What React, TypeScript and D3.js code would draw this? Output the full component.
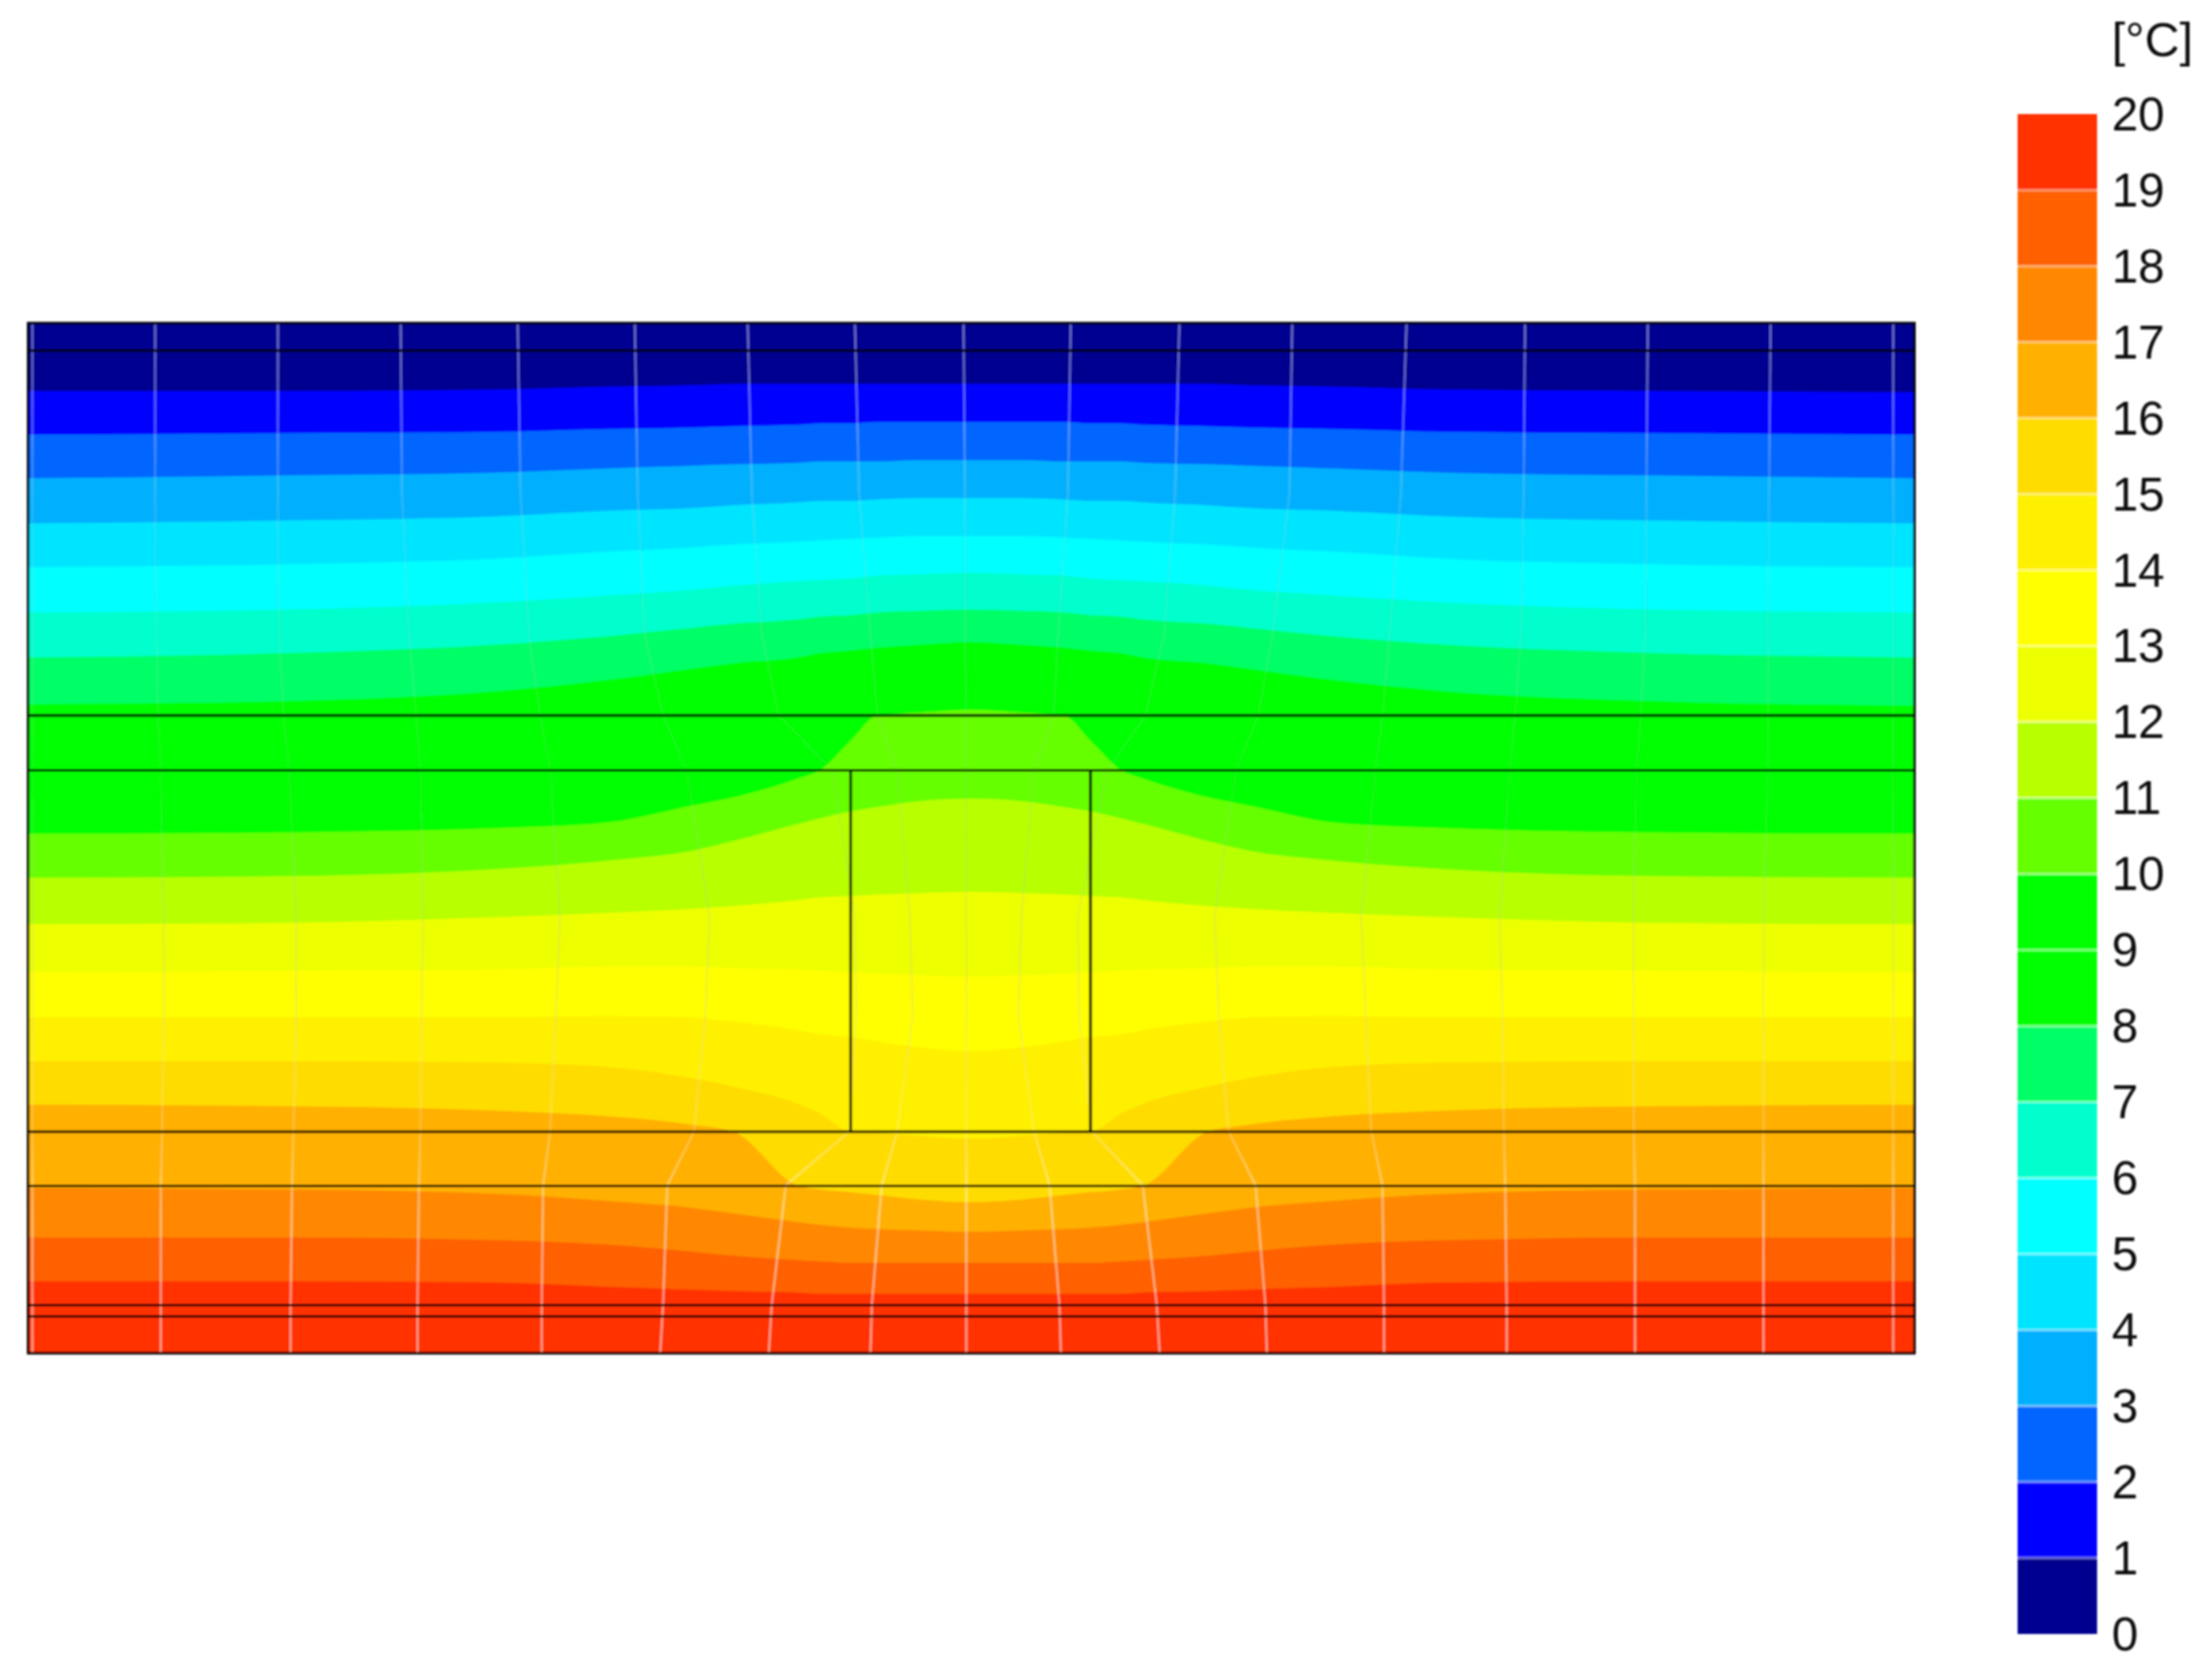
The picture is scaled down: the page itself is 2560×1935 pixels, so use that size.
import React from "react";
import * as d3 from "d3";

// Temperature legend
const legendLevels = d3.range(0, 21);
const bandColors = [
  "#000090", "#0000ff", "#0066ff", "#00b0ff", "#00e5ff",
  "#00ffff", "#00ffcc", "#00ff66", "#00ff00", "#00ff00",
  "#66ff00", "#b8ff00", "#eeff00", "#ffff00", "#fff000",
  "#ffdc00", "#ffb000", "#ff8800", "#ff6000", "#ff3000",
];
const unitLabel = "[°C]";

// Along-wall stations for the isotherms (model units)
const stations = [20, 200, 350, 430, 490, 520, 565, 581, 603, 622, 650, 688, 726, 754, 773, 795, 811, 856, 886, 946, 1026, 1176, 1357];

// Isotherm depth at each station, one list per temperature
const iso1 = [277, 277, 276, 274, 273, 272, 272, 272, 272, 272, 272, 272, 272, 272, 272, 272, 272, 272, 273, 274, 276, 277, 278];
const iso2 = [308, 307, 306, 304, 303, 302, 301, 300, 300, 299, 299, 299, 299, 299, 300, 300, 301, 302, 303, 304, 306, 307, 308];
const iso3 = [339, 337, 335, 332, 330, 329, 328, 327, 327, 327, 326, 326, 326, 327, 327, 327, 328, 329, 330, 332, 335, 337, 339];
const iso4 = [371, 369, 366, 362, 360, 358, 356, 355, 355, 354, 353, 353, 353, 354, 355, 355, 356, 358, 360, 362, 366, 369, 371];
const iso5 = [402, 400, 396, 391, 388, 386, 384, 383, 382, 381, 380, 380, 380, 381, 382, 383, 384, 386, 388, 391, 396, 400, 402];
const iso6 = [434, 432, 427, 422, 418, 415, 412, 411, 410, 408, 407, 406, 407, 408, 410, 411, 412, 415, 418, 422, 427, 432, 434];
const iso7 = [466, 463, 457, 451, 445, 442, 439, 437, 436, 434, 433, 432, 433, 434, 436, 437, 439, 442, 445, 451, 457, 463, 466];
const iso8 = [499, 497, 490, 482, 474, 470, 466, 463, 461, 459, 457, 455, 457, 459, 461, 463, 466, 470, 474, 482, 490, 497, 500];
const iso9 = [545, 543, 540, 533, 525, 518, 505, 500, 495, 492, 490, 488, 490, 492, 495, 500, 505, 518, 525, 533, 540, 543, 545];
const iso10 = [591, 590, 587, 583, 571, 565, 552, 546, 525, 507, 505, 503, 505, 507, 525, 546, 552, 565, 571, 583, 587, 590, 591];
const iso11 = [622, 621, 616, 610, 603, 596, 584, 580, 575, 572, 568, 566, 568, 572, 575, 580, 584, 596, 603, 610, 616, 621, 622];
const iso12 = [655, 654, 650, 647, 644, 642, 638, 636, 635, 634, 633, 632, 633, 634, 635, 636, 638, 642, 644, 647, 650, 654, 655];
const iso13 = [689, 688, 687, 685, 685, 686, 687, 688, 689, 690, 691, 692, 691, 690, 689, 688, 687, 686, 685, 685, 687, 688, 689];
const iso14 = [721, 721, 721, 720, 721, 724, 730, 733, 735, 738, 742, 745, 742, 738, 735, 733, 730, 724, 721, 720, 721, 721, 721];
const iso15 = [752, 752, 753, 756, 764, 770, 782, 789, 802, 803, 805, 807, 805, 803, 802, 789, 782, 770, 764, 756, 753, 752, 752];
const iso16 = [783, 784, 787, 791, 797, 802, 840, 843, 845, 847, 850, 852, 850, 847, 845, 843, 840, 802, 797, 791, 787, 784, 783];
const iso17 = [842, 843, 846, 851, 856, 860, 866, 868, 870, 871, 872, 873, 872, 871, 870, 868, 866, 860, 856, 851, 846, 843, 842];
const iso18 = [877, 877, 879, 882, 887, 890, 893, 894, 895, 895, 895, 895, 895, 895, 895, 894, 893, 890, 887, 882, 879, 877, 877];
const iso19 = [908, 908, 909, 912, 914, 915, 916, 917, 917, 917, 917, 917, 917, 917, 917, 917, 916, 915, 914, 912, 909, 908, 908];
const isotherms = [iso1, iso2, iso3, iso4, iso5, iso6, iso7, iso8, iso9, iso10, iso11, iso12, iso13, iso14, iso15, iso16, iso17, iso18, iso19];

// Heat-flux lines: along-wall position at each depth
const fluxDepths = [229, 350, 450, 507, 546, 650, 720, 802, 840, 925, 959];
const fluxLines = [
  [23, 23, 23, 23, 23, 23, 23, 23, 23, 23, 23],
  [110, 110, 111, 112, 114, 116, 116, 115, 114, 114, 114],
  [197, 197, 198, 201, 205, 210, 210, 208, 207, 206, 206],
  [284, 285, 290, 295, 298, 300, 299, 298, 297, 296, 296],
  [367, 369, 375, 383, 390, 397, 394, 390, 385, 384, 384],
  [450, 452, 457, 470, 487, 503, 500, 492, 473, 470, 468],
  [530, 533, 540, 552, 590, 606, 607, 602, 557, 547, 545],
  [606, 609, 617, 622, 636, 645, 647, 636, 625, 618, 617],
  [683, 684, 684, 685, 685, 685, 685, 685, 685, 685, 685],
  [759, 757, 750, 747, 733, 724, 722, 733, 744, 751, 752],
  [836, 833, 825, 812, 785, 764, 765, 774, 810, 820, 822],
  [916, 914, 902, 892, 876, 861, 864, 871, 890, 897, 898],
  [997, 993, 985, 980, 975, 965, 968, 972, 980, 981, 981],
  [1081, 1080, 1078, 1074, 1070, 1063, 1065, 1066, 1067, 1068, 1068],
  [1168, 1167, 1166, 1163, 1160, 1158, 1158, 1158, 1159, 1159, 1159],
  [1255, 1254, 1253, 1253, 1253, 1250, 1250, 1250, 1250, 1250, 1250],
  [1342, 1342, 1342, 1342, 1342, 1342, 1342, 1342, 1342, 1342, 1342],
];

// Construction layers and the stud
const layerDepths = [248.5, 507, 546, 802, 840.5, 925, 933];
const studEdges = [603, 773];
const studDepth = [546, 802];
const extentX = [20, 1357];
const extentDepth = [229, 959];

const x = d3.scaleLinear().domain(extentX).range([32.6, 2215.6]);
const y = d3.scaleLinear().domain(extentDepth).range([374, 1566]);
const legendY = d3.scaleLinear().domain([0, 20]).range([1891, 132]);

const fontFamily = "'Liberation Sans', Arial, sans-serif";

export default function App() {
  const bandArea = d3
    .area<number>()
    .x((_, i) => x(stations[i]))
    .y0(y(extentDepth[1]))
    .y1((d) => y(d))
    .curve(d3.curveMonotoneX);
  const fluxPath = d3
    .line<number>()
    .x((d) => x(d))
    .y((_, i) => y(fluxDepths[i]))
    .curve(d3.curveLinear);

  return (
    <svg
      width={2560}
      height={1935}
      viewBox="0 0 2560 1935"
      style={{ position: "absolute", left: 0, top: 0, display: "block" }}
    >
      <defs>
        <filter id="soft" filterUnits="userSpaceOnUse" x="0" y="0" width="2560" height="1935">
          <feGaussianBlur stdDeviation="0.8" />
        </filter>
        <linearGradient id="fluxStroke" gradientUnits="userSpaceOnUse" x1="0" x2="0" y1={y(229)} y2={y(959)}>
          <stop offset="0" stopColor="#d8d8ff" stopOpacity="0.5" />
          <stop offset="0.1" stopColor="#c0d8ff" stopOpacity="0.42" />
          <stop offset="0.2" stopColor="#90c8c8" stopOpacity="0.22" />
          <stop offset="0.45" stopColor="#a0c8a0" stopOpacity="0.15" />
          <stop offset="0.65" stopColor="#c8c8a0" stopOpacity="0.28" />
          <stop offset="0.78" stopColor="#ffe8c0" stopOpacity="0.28" />
          <stop offset="0.86" stopColor="#ffffff" stopOpacity="0.45" />
          <stop offset="1" stopColor="#ffffff" stopOpacity="0.55" />
        </linearGradient>
      </defs>
      <rect x={0} y={0} width={2560} height={1935} fill="#ffffff" />
      <g filter="url(#soft)">
        <rect
          x={x(extentX[0])}
          y={y(extentDepth[0])}
          width={x(extentX[1]) - x(extentX[0])}
          height={y(extentDepth[1]) - y(extentDepth[0])}
          fill={bandColors[0]}
        />
        {isotherms.map((iso, i) => (
          <path key={i} d={bandArea(iso) ?? ""} fill={bandColors[i + 1]} />
        ))}
        {fluxLines.map((line, i) => (
          <path key={i} d={fluxPath(line) ?? ""} fill="none" stroke="url(#fluxStroke)" strokeWidth={2.4} />
        ))}
        {layerDepths.map((d) => (
          <line key={d} x1={x(extentX[0])} x2={x(extentX[1])} y1={y(d)} y2={y(d)} stroke="#000000" strokeWidth={3} />
        ))}
        {studEdges.map((e) => (
          <line key={e} x1={x(e)} x2={x(e)} y1={y(studDepth[0])} y2={y(studDepth[1])} stroke="#000000" strokeWidth={3.2} />
        ))}
        <rect
          x={x(extentX[0])}
          y={y(extentDepth[0])}
          width={x(extentX[1]) - x(extentX[0])}
          height={y(extentDepth[1]) - y(extentDepth[0])}
          fill="none"
          stroke="#000000"
          strokeWidth={3}
        />
        {bandColors.map((c, i) => (
          <rect
            key={i}
            x={2335}
            y={legendY(i + 1)}
            width={92}
            height={legendY(i) - legendY(i + 1)}
            fill={c}
          />
        ))}
        {legendLevels.slice(1, 20).map((l) => (
          <line
            key={l}
            x1={2335}
            x2={2427}
            y1={legendY(l)}
            y2={legendY(l)}
            stroke="#ffffff"
            strokeOpacity={0.4}
            strokeWidth={3}
          />
        ))}
        {legendLevels.map((l) => (
          <text
            key={l}
            x={2444}
            y={legendY(l) - 1}
            dy="0.36em"
            fontFamily={fontFamily}
            fontSize={55}
            fill="#111111"
          >
            {l}
          </text>
        ))}
        <text x={2444} y={45} dy="0.36em" fontFamily={fontFamily} fontSize={56} fill="#111111">
          {unitLabel}
        </text>
      </g>
    </svg>
  );
}
